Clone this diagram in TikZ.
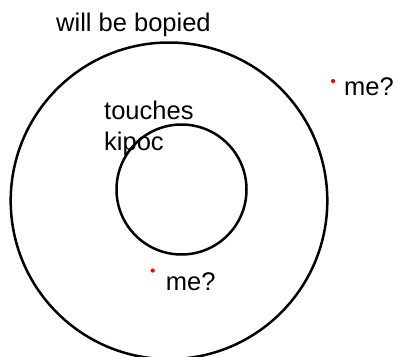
\documentclass[tikz,border=0pt]{standalone}
\usepackage{fontspec}
\setmainfont{Liberation Sans}
\usetikzlibrary{positioning}

\begin{document}
\begin{tikzpicture}[x=1pt, y=-1pt,
  ring/.style={draw=black, line width=2.5pt, circle, inner sep=0pt},
  lbl/.style={anchor=base west, inner sep=0pt, font=\fontsize{25.5}{30}\selectfont},
  pt/.style={fill=red, circle, inner sep=0pt, minimum size=4.2pt}]
\useasboundingbox (0,0) rectangle (396,356);
\node[ring, minimum size=316.6pt] (outer) at (169,200.8) {};
\node[ring, minimum size=130pt] (inner) at (181.5,189.5) {};
\node[lbl] (title) at (56,31.7) {will be bopied};
\node[lbl] (touch) at (104,119.5) {touches};
\node[lbl] (kip) at (104,150) {kipoc};
\node[pt] (dotout) at (333,81) {};
\node[lbl] (meout) at (344,95) {me?};
\node[pt] (dotin) at (152.7,270.5) {};
\node[lbl] (mein) at (165.7,290.5) {me?};
\end{tikzpicture}
\end{document}
